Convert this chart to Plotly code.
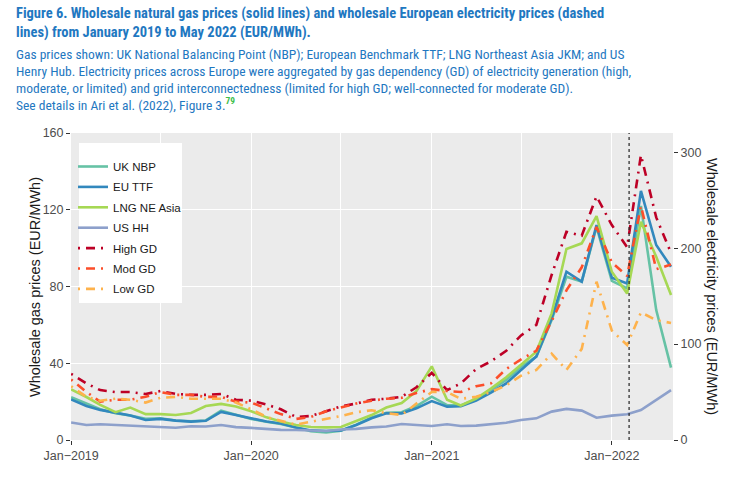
import pandas as pd
import plotly.graph_objects as go

dates = pd.date_range("2019-01-01", periods=41, freq="MS")

# Gas prices (EUR/MWh), left axis
uk_nbp = [22.3, 18.8, 16.0, 14.0, 12.8, 11.0, 11.3, 10.2, 9.8, 10.2, 15.3, 13.2,
          11.0, 9.5, 8.3, 6.5, 4.6, 4.0, 4.8, 8.0, 11.8, 14.2, 14.5, 17.7,
          22.6, 18.2, 18.0, 21.2, 26.0, 31.3, 38.2, 43.5, 62.5, 85.1, 82.5, 111.0,
          82.9, 79.0, 122.0, 67.7, 37.7]
eu_ttf = [21.2, 17.7, 15.7, 14.4, 12.8, 10.4, 11.0, 10.1, 9.6, 10.0, 14.6, 13.0,
          11.3, 9.6, 8.6, 6.5, 5.0, 4.7, 5.0, 7.8, 11.3, 13.9, 13.9, 16.5,
          20.3, 17.4, 17.6, 20.5, 24.7, 29.5, 36.5, 43.5, 63.4, 87.7, 82.5, 112.0,
          84.6, 81.6, 129.8, 101.6, 90.3]
lng_ne_asia = [26.4, 22.4, 18.3, 14.5, 16.9, 13.5, 13.5, 13.0, 14.1, 17.7, 18.8, 17.5,
               15.0, 11.8, 9.6, 7.8, 6.8, 6.6, 6.8, 9.8, 13.0, 16.9, 19.3, 25.5,
               38.4, 21.0, 18.0, 21.6, 26.8, 32.7, 39.0, 46.0, 66.0, 99.5, 102.5, 116.7,
               87.7, 76.4, 113.8, 95.5, 75.6]
us_hh = [9.1, 7.8, 8.2, 7.8, 7.6, 6.9, 6.8, 6.4, 7.2, 7.0, 7.8, 6.7,
         6.3, 5.7, 5.3, 5.2, 4.9, 4.7, 5.5, 5.8, 6.6, 7.0, 8.3, 7.8,
         7.3, 8.2, 7.3, 7.5, 8.2, 9.0, 10.4, 11.3, 14.8, 16.2, 15.3, 11.6,
         12.7, 13.4, 15.6, 20.8, 26.0]

# Electricity prices (EUR/MWh), right axis
high_gd = [69, 59, 52, 50, 50, 48, 51, 48, 47, 47, 48, 42,
           41, 37, 32, 24, 25, 30, 35, 38, 42, 43, 45, 55,
           70, 52, 59, 74, 82, 93, 109, 120, 172, 217, 213, 254,
           224, 201, 297, 232, 195]
mod_gd = [63, 50, 40, 42, 42, 45, 50, 47, 47, 45, 45, 40,
          39, 33, 27, 22, 24, 30, 34, 38, 41, 43, 44, 49,
          53, 51, 50, 56, 59, 74, 84, 93, 124, 156, 180, 222,
          185, 171, 244, 178, 183]
low_gd = [56, 45, 41, 43, 42, 39, 44, 45, 43, 43, 43, 39,
          32, 24, 20, 16, 19, 22, 25, 29, 31, 28, 26, 38,
          50, 50, 43, 45, 50, 57, 67, 73, 90, 73, 95, 165,
          114, 99, 133, 125, 122]

gas_series = [("UK NBP", uk_nbp, "#66C2A5"),
              ("EU TTF", eu_ttf, "#3288BD"),
              ("LNG NE Asia", lng_ne_asia, "#A6D854"),
              ("US HH", us_hh, "#8DA0CB")]
elec_series = [("High GD", high_gd, "#BD0026"),
               ("Mod GD", mod_gd, "#FC4E2A"),
               ("Low GD", low_gd, "#FEB24C")]

x_tickvals = ["2019-01-01", "2020-01-01", "2021-01-01", "2022-01-01"]
x_ticktext = ["Jan\u22122019", "Jan\u22122020", "Jan\u22122021", "Jan\u22122022"]
y_left_ticks = [0, 40, 80, 120, 160]
y_right_ticks = [0, 100, 200, 300]

fig = go.Figure()
for name, vals, col in gas_series:
    fig.add_trace(go.Scatter(x=dates, y=vals, name=name, mode="lines",
                             line=dict(color=col, width=2.6), legendgroup=name))
for name, vals, col in elec_series:
    fig.add_trace(go.Scatter(x=dates, y=vals, name=name, mode="lines", yaxis="y2",
                             line=dict(color=col, width=2.6, dash="2px,6px,9px,6px"),
                             legendgroup=name))

L, R, T, B = 71, 673, 133, 440
W, H = 736, 478


def px(x):
    return (x - L) / (R - L)


def py(y):
    return (B - y) / (B - T)


TITLE_FONT = "Roboto Condensed, Liberation Sans Narrow, DejaVu Sans Condensed, Roboto"
BLUE = "#1F78C1"
ann = []
title_lines = [
    ("Figure 6. Wholesale natural gas prices (solid lines) and wholesale European electricity prices (dashed", 13.5),
    ("lines) from January 2019 to May 2022 (EUR/MWh).", 32.5),
]
for t, yy in title_lines:
    ann.append(dict(text="<b>" + t + "</b>", x=px(14), y=py(yy), xref="paper", yref="paper",
                    xanchor="left", yanchor="middle", showarrow=False,
                    font=dict(family=TITLE_FONT, size=14.5, color=BLUE)))
sub_lines = [
    ("Gas prices shown: UK National Balancing Point (NBP); European Benchmark TTF; LNG Northeast Asia JKM; and US", 53.5),
    ("Henry Hub. Electricity prices across Europe were aggregated by gas dependency (GD) of electricity generation (high,", 71),
    ("moderate, or limited) and grid interconnectedness (limited for high GD; well-connected for moderate GD).", 87.7),
    ("See details in Ari et al. (2022), Figure 3.<sup><span style='color:#3DBE4B'><b>79</b></span></sup>", 104),
]
for t, yy in sub_lines:
    ann.append(dict(text=t, x=px(14), y=py(yy), xref="paper", yref="paper",
                    xanchor="left", yanchor="middle", showarrow=False,
                    font=dict(family=TITLE_FONT, size=13.5, color=BLUE)))

ann.append(dict(text="Wholesale gas prices (EUR/MWh)", x=px(35), y=py(287), xref="paper", yref="paper",
                textangle=-90, showarrow=False, xanchor="center", yanchor="middle",
                font=dict(family="Liberation Sans, Arial", size=14.5, color="#1A1A1A")))
ann.append(dict(text="Wholesale electricity prices (EUR/MWh)", x=px(712), y=py(286), xref="paper", yref="paper",
                textangle=90, showarrow=False, xanchor="center", yanchor="middle",
                font=dict(family="Liberation Sans, Arial", size=14.5, color="#1A1A1A")))

shapes = [
    dict(type="rect", xref="paper", yref="paper", x0=px(79), x1=px(182), y0=py(303), y1=py(143),
         fillcolor="white", line=dict(width=0), layer="above"),
    dict(type="line", xref="x", yref="paper", x0="2022-02-05", x1="2022-02-05", y0=0, y1=1,
         line=dict(color="#222222", width=1.2, dash="dot")),
]

tickfont = dict(family="Liberation Sans, Arial", size=12.5, color="#4D4D4D")
fig.update_layout(
    width=W, height=H,
    margin=dict(l=L, r=W - R, t=T, b=H - B),
    paper_bgcolor="white", plot_bgcolor="#EBEBEB",
    showlegend=True,
    legend=dict(x=px(73), y=py(152), xanchor="left", yanchor="top",
                bgcolor="rgba(0,0,0,0)", borderwidth=0, tracegroupgap=1.4,
                font=dict(family="Liberation Sans, Arial", size=11.5, color="#1A1A1A")),
    xaxis=dict(type="date", range=["2018-12-31 18:00", "2022-05-05"],
               tickvals=x_tickvals, ticktext=x_ticktext,
               ticks="outside", ticklen=4, tickcolor="#333333", tickwidth=1,
               showgrid=True, gridcolor="white", gridwidth=1.2, zeroline=False,
               tickfont=tickfont,
               minor=dict(dtick="M6", tick0="2019-01-01", showgrid=True,
                          gridcolor="white", gridwidth=1.0, ticks="")),
    yaxis=dict(range=[0, 160], tickvals=y_left_ticks, ticks="outside", ticklen=4,
               tickcolor="#333333", tickwidth=1, showgrid=True, gridcolor="white",
               gridwidth=1.2, zeroline=False, tickfont=tickfont),
    yaxis2=dict(range=[0, 320], tickvals=y_right_ticks, overlaying="y", side="right",
                ticks="outside", ticklen=4, tickcolor="#333333", tickwidth=1,
                showgrid=False, zeroline=False, tickfont=tickfont),
    annotations=ann, shapes=shapes,
)

fig.write_html("out.html")
